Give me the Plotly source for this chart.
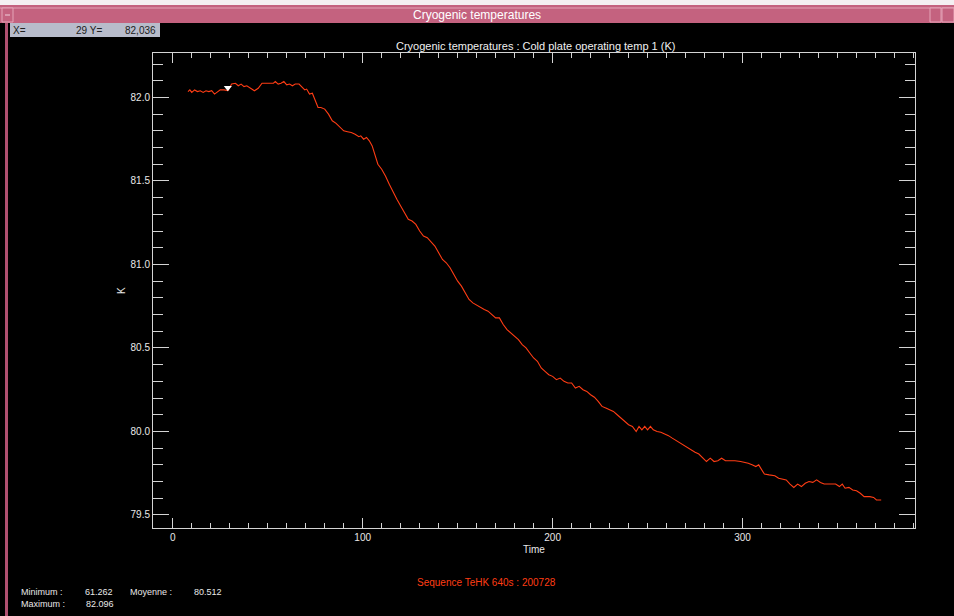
import plotly.graph_objects as go

# ---------------- data ----------------
time = [8, 9, 10, 11.5, 13, 14.5, 16, 17.5, 19, 20.5, 22, 23.5, 25, 27, 29, 30, 31, 33, 34.5, 36,
        37.5, 39, 41, 43, 45, 47, 50, 53, 54, 55.5, 57, 58.5, 60, 61.5, 63, 64.5, 66.5, 68, 69.5, 70.5,
        72, 73.5, 75, 76.5, 78, 80, 82, 84, 86, 88, 90, 92, 94, 96, 98, 99, 100.5, 102, 103.5, 105,
        106.5, 108, 110, 112, 114, 116, 118, 120, 122, 124, 126, 128, 130, 132, 134, 136, 138, 140, 142, 144,
        146, 148, 150, 152, 154, 156, 158, 160, 162, 164, 166, 168, 170, 172, 174, 176, 178, 180, 182, 184,
        186, 188, 190, 192, 194, 196, 198, 200, 202, 204, 206, 208, 210, 212, 214, 216, 218, 220, 222, 224,
        226, 228, 230, 232, 234, 236, 238, 240, 242, 244, 245.5, 247, 248.5, 250, 251.5, 253, 255, 257, 259, 261,
        263, 265, 267, 269, 271, 273, 275, 277, 279, 281, 283, 285, 287, 289, 291, 293, 296, 299, 301, 303,
        305, 307, 308.5, 310, 311.5, 314, 317, 319, 321, 323, 325, 327, 329, 331, 333, 335, 337, 339, 341, 343,
        346, 349, 351, 352.5, 354, 356, 358, 360, 362, 364, 367, 369, 370.5, 373]
temp = [82.035, 82.045, 82.03, 82.045, 82.035, 82.04, 82.03, 82.04, 82.035, 82.04, 82.02, 82.035, 82.045, 82.045, 82.04, 82.06, 82.08, 82.085, 82.07, 82.08,
        82.065, 82.07, 82.055, 82.04, 82.055, 82.085, 82.085, 82.085, 82.095, 82.08, 82.085, 82.095, 82.075, 82.08, 82.07, 82.08, 82.08, 82.06, 82.045, 82.05,
        82.02, 82.025, 81.98, 81.94, 81.94, 81.93, 81.90, 81.86, 81.845, 81.82, 81.80, 81.795, 81.79, 81.78, 81.765, 81.77, 81.75, 81.76, 81.74, 81.71,
        81.65, 81.60, 81.57, 81.53, 81.48, 81.43, 81.39, 81.35, 81.31, 81.27, 81.26, 81.24, 81.20, 81.17, 81.16, 81.135, 81.11, 81.07, 81.03, 81.01,
        80.98, 80.94, 80.90, 80.87, 80.83, 80.79, 80.77, 80.755, 80.74, 80.73, 80.72, 80.70, 80.68, 80.68, 80.64, 80.61, 80.59, 80.57, 80.55, 80.52,
        80.50, 80.47, 80.44, 80.42, 80.38, 80.36, 80.34, 80.33, 80.31, 80.32, 80.30, 80.29, 80.29, 80.26, 80.27, 80.25, 80.24, 80.22, 80.205, 80.18,
        80.15, 80.14, 80.13, 80.12, 80.10, 80.08, 80.055, 80.04, 80.03, 80.00, 80.03, 80.01, 80.03, 80.01, 80.03, 80.01, 80.00, 79.995, 79.985, 79.975,
        79.96, 79.945, 79.93, 79.915, 79.905, 79.89, 79.875, 79.865, 79.84, 79.82, 79.84, 79.82, 79.825, 79.84, 79.825, 79.825, 79.825, 79.82, 79.815, 79.81,
        79.80, 79.79, 79.80, 79.775, 79.745, 79.74, 79.735, 79.72, 79.715, 79.71, 79.685, 79.665, 79.685, 79.67, 79.69, 79.70, 79.695, 79.71, 79.695, 79.685,
        79.685, 79.685, 79.67, 79.685, 79.66, 79.665, 79.65, 79.645, 79.63, 79.61, 79.61, 79.605, 79.59, 79.59]

cursor_x = [29]
cursor_y = [82.058]

x_ticks = [0, 100, 200, 300]
y_ticks = [79.5, 80.0, 80.5, 81.0, 81.5, 82.0]
y_tick_labels = ["79.5", "80.0", "80.5", "81.0", "81.5", "82.0"]

window_title = "Cryogenic temperatures"
plot_title = "Cryogenic temperatures : Cold plate operating temp 1 (K)"
sequence_text = "Sequence TeHK 640s : 200728"
stats_labels = ["Minimum :", "Maximum :", "Moyenne :"]
stats_values = ["61.262", "82.096", "80.512"]

# ---------------- figure ----------------
W, H = 954, 616
L, R, T, B = 153, 39, 53, 88
PW, PH = W - L - R, H - T - B

def px(x):
    return (x - L) / PW

def py(y):
    return (H - B - y) / PH

LINE = "#ff3d14"
AX = "#d4d4d4"
FONT = "Liberation Sans"

fig = go.Figure()
fig.add_trace(go.Scatter(x=time, y=temp, mode="lines",
                         line=dict(color=LINE, width=1.1), hoverinfo="skip"))
fig.add_trace(go.Scatter(x=cursor_x, y=cursor_y, mode="markers",
                         marker=dict(symbol="triangle-down", size=7, color="white"),
                         hoverinfo="skip"))

axis_common = dict(showgrid=False, zeroline=False, showline=True, linecolor=AX, linewidth=1,
                   mirror="ticks", ticks="inside", tickcolor=AX, tickwidth=1,
                   tickfont=dict(family=FONT, size=10, color="#e8e8e8"))

fig.update_xaxes(range=[-10.4, 390.8], tickvals=x_ticks, ticklen=10,
                 minor=dict(dtick=10, tick0=0, ticks="inside", ticklen=5, tickcolor=AX, showgrid=False),
                 **axis_common)
fig.update_yaxes(range=[79.422, 82.266], tickvals=y_ticks, ticktext=y_tick_labels, ticklen=16,
                 minor=dict(dtick=0.1, tick0=79.5, ticks="inside", ticklen=10, tickcolor=AX, showgrid=False),
                 **axis_common)

shapes = []
# window chrome
shapes.append(dict(type="rect", xref="paper", yref="paper", x0=px(0), x1=px(W), y0=py(0), y1=py(5),
                   fillcolor="#f4f0f2", line=dict(width=0), layer="above"))
shapes.append(dict(type="rect", xref="paper", yref="paper", x0=px(0), x1=px(W), y0=py(5), y1=py(23),
                   fillcolor="#c4627f", line=dict(width=0), layer="above"))
shapes.append(dict(type="line", xref="paper", yref="paper", x0=px(0), x1=px(W), y0=py(8), y1=py(8),
                   line=dict(color="#e4a4b8", width=1), layer="above"))
shapes.append(dict(type="rect", xref="paper", yref="paper", x0=px(2), x1=px(13), y0=py(8), y1=py(22),
                   fillcolor="#c4627f", line=dict(color="#e4a4b8", width=1), layer="above"))
shapes.append(dict(type="line", xref="paper", yref="paper", x0=px(5), x1=px(10), y0=py(15), y1=py(15),
                   line=dict(color="#f0d0dc", width=1), layer="above"))
shapes.append(dict(type="rect", xref="paper", yref="paper", x0=px(930), x1=px(941), y0=py(8), y1=py(22),
                   fillcolor="#c4627f", line=dict(color="#e4a4b8", width=1), layer="above"))
shapes.append(dict(type="rect", xref="paper", yref="paper", x0=px(942), x1=px(954), y0=py(8), y1=py(22),
                   fillcolor="#c4627f", line=dict(color="#e4a4b8", width=1), layer="above"))
shapes.append(dict(type="rect", xref="paper", yref="paper", x0=px(5), x1=px(8), y0=py(23), y1=py(H),
                   fillcolor="#b05070", line=dict(width=0), layer="above"))
# cursor readout box
shapes.append(dict(type="rect", xref="paper", yref="paper", x0=px(10), x1=px(160), y0=py(23), y1=py(37),
                   fillcolor="#b8bccb", line=dict(width=0), layer="above"))

annotations = []
def text(x, y, s, size=10, color="#e8e8e8", xanchor="left", angle=0):
    annotations.append(dict(xref="paper", yref="paper", x=px(x), y=py(y), text=s, showarrow=False,
                            xanchor=xanchor, yanchor="middle", textangle=angle,
                            font=dict(family=FONT, size=size, color=color)))

text(477, 15, window_title, size=12, color="white", xanchor="center")
text(11, 30, "X=", size=10, color="#202020")
text(104, 30, str(cursor_x[0]) + " Y=", size=10, color="#202020", xanchor="right")
text(158, 30, "82,036", size=10, color="#202020", xanchor="right")
text(535, 46, plot_title, size=11, color="#f0f0f0", xanchor="center")
text(534, 549, "Time", size=10, xanchor="center")
text(121, 291, "K", size=10, xanchor="center", angle=-90)
text(486, 582, sequence_text, size=10, color=LINE, xanchor="center")
text(19, 592, stats_labels[0], size=9)
text(83, 592, stats_values[0], size=9)
text(19, 604, stats_labels[1], size=9)
text(84, 604, stats_values[1], size=9)
text(128, 592, stats_labels[2], size=9)
text(192, 592, stats_values[2], size=9)

fig.update_layout(width=W, height=H, margin=dict(l=L, r=R, t=T, b=B, pad=0),
                  paper_bgcolor="black", plot_bgcolor="black", showlegend=False,
                  shapes=shapes, annotations=annotations)

fig.write_html("out.html", config={"displayModeBar": False},
               post_script="document.body.style.margin='0';document.body.style.background='black';")
